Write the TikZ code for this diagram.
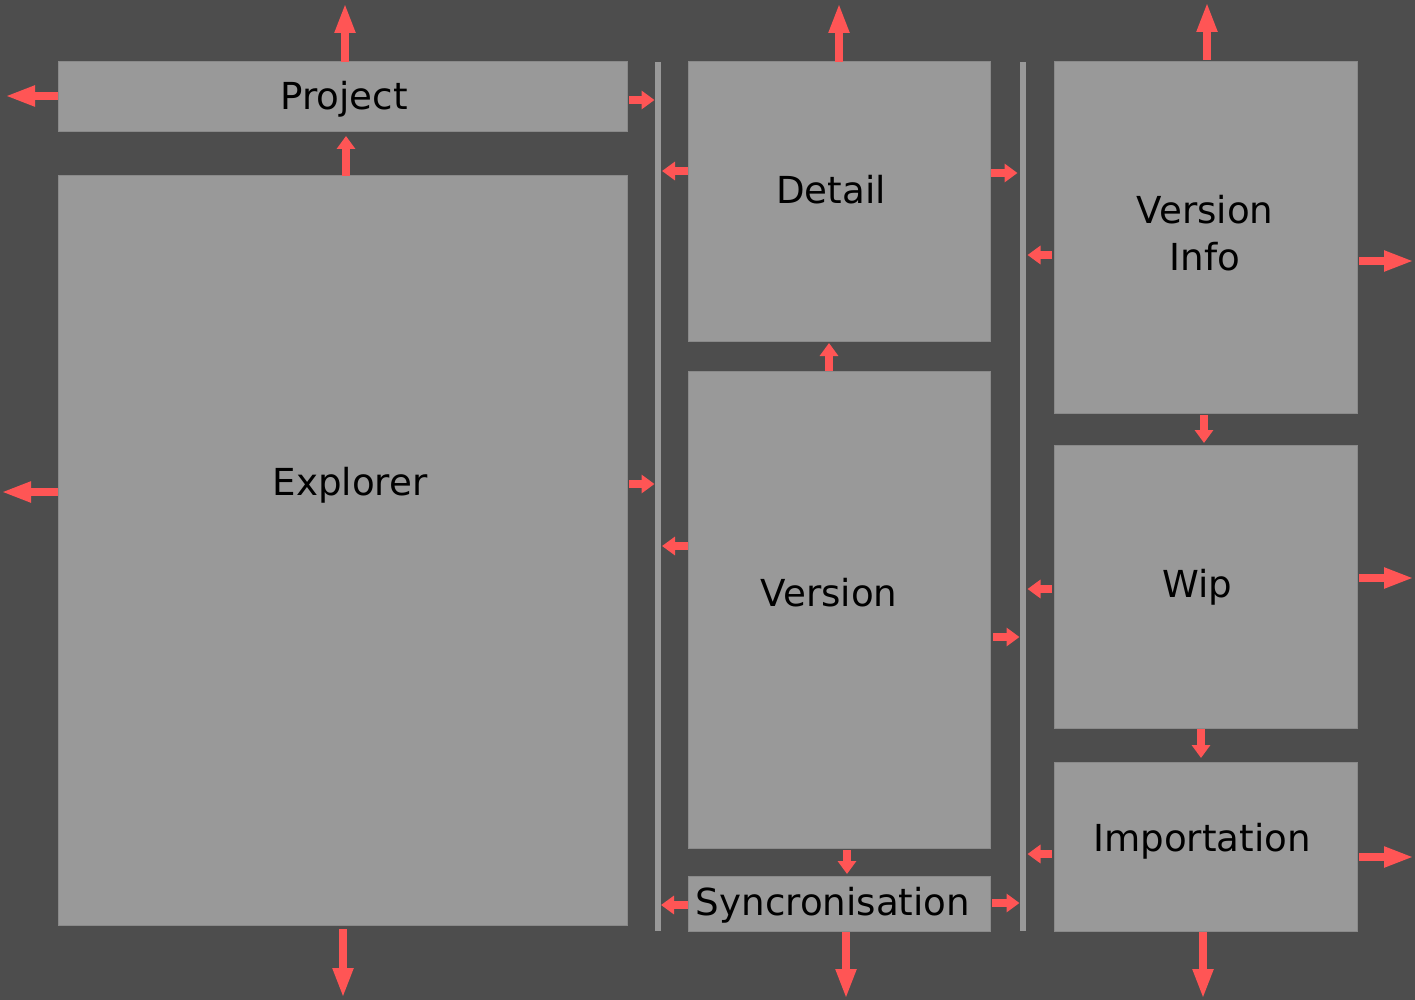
\documentclass[tikz,border=0pt]{standalone}
\usepackage{fontspec}
\setmainfont{DejaVu Sans}
\usetikzlibrary{arrows.meta}
\definecolor{bg}{HTML}{4D4D4D}
\definecolor{panel}{HTML}{999999}
\definecolor{edgec}{HTML}{8A8A8A}
\definecolor{arr}{HTML}{FF5555}
\tikzset{
  panelbox/.style={draw=edgec, line width=1pt, fill=panel, inner sep=0pt, outer sep=0pt, anchor=north west},
  divider/.style={fill=panel, inner sep=0pt, outer sep=0pt, anchor=north west, minimum width=6pt, minimum height=869pt},
  lbl/.style={font=\fontsize{37.2}{46}\selectfont, text=black, align=center, inner sep=0pt},
  bigarrow/.style={draw=arr, line width=7.5pt, -{Triangle[width=19pt,length=30pt]}},
  smallarrow/.style={draw=arr, line width=7.5pt, -{Triangle[width=18pt,length=13pt]}},
}
\begin{document}
\begin{tikzpicture}[x=1pt, y=-1pt]
\fill[bg] (0,0) rectangle (1415,1000);
\useasboundingbox (0,0) rectangle (1415,1000);

% panels
\node[panelbox, minimum width=569pt, minimum height=70pt]  (project)  at (58,62)   {};
\node[panelbox, minimum width=569pt, minimum height=749pt] (explorer) at (58,176)  {};
\node[panelbox, minimum width=302pt, minimum height=279pt] (detail)   at (688,62)  {};
\node[panelbox, minimum width=302pt, minimum height=477pt] (version)  at (688,371) {};
\node[panelbox, minimum width=302pt, minimum height=55pt]  (sync)     at (688,876) {};
\node[panelbox, minimum width=303pt, minimum height=351pt] (vinfo)    at (1054,62) {};
\node[panelbox, minimum width=303pt, minimum height=283pt] (wip)      at (1054,445) {};
\node[panelbox, minimum width=303pt, minimum height=169pt] (import)   at (1054,762) {};

% dividers
\node[divider] (div1) at (654.5,62) {};
\node[divider] (div2) at (1019.5,62) {};

% labels
\node[lbl, anchor=base] (projectlbl)  at (344,110) {Project};
\node[lbl, anchor=base] (explorerlbl) at (350,495) {Explorer};
\node[lbl, anchor=base] (detaillbl)   at (831,204) {Detail};
\node[lbl, anchor=base] (vinfolbl1)   at (1205,224) {Version};
\node[lbl, anchor=base] (vinfolbl2)   at (1205,270) {Info};
\node[lbl, anchor=base] (versionlbl)  at (829,606) {Version};
\node[lbl, anchor=base] (synclbl)     at (833,915) {Syncronisation};
\node[lbl, anchor=base] (wiplbl)      at (1197,597) {Wip};
\node[lbl, anchor=base] (importlbl)   at (1202,851) {Importation};

% free ends of outward arrows
\coordinate (projUp)    at (345,3);
\coordinate (projLeft)  at (5,96);
\coordinate (explLeft)  at (1,492);
\coordinate (explDown)  at (343,998);
\coordinate (detUp)     at (839,3);
\coordinate (syncDown)  at (846,999);
\coordinate (viUp)      at (1207,2);
\coordinate (viRight)   at (1414,261);
\coordinate (wipRight)  at (1414,578);
\coordinate (impRight)  at (1414,857);
\coordinate (impDown)   at (1203,999);

% Project
\draw[bigarrow] (projUp |- project.north) -- (projUp);
\draw[bigarrow] (projLeft -| project.west) -- (projLeft);
\draw[smallarrow, shorten <=2pt] (project.east |- 0,100) -- (div1.west |- 0,100);

% Explorer
\draw[smallarrow, shorten >=4pt] (explorer.north -| 346,0) -- (project.south -| 346,0);
\draw[bigarrow] (explLeft -| explorer.west) -- (explLeft);
\draw[smallarrow, shorten <=2pt] (explorer.east |- 0,484) -- (div1.west |- 0,484);
\draw[bigarrow, shorten <=4pt] (explDown |- explorer.south) -- (explDown);

% Detail
\draw[bigarrow] (detUp |- detail.north) -- (detUp);
\draw[smallarrow, shorten >=1.5pt] (detail.west |- 0,171) -- (div1.east |- 0,171);
\draw[smallarrow, shorten <=1pt, shorten >=2pt] (detail.east |- 0,173) -- (div2.west |- 0,173);

% Version
\draw[smallarrow, shorten >=2pt] (version.north -| 829,0) -- (detail.south -| 829,0);
\draw[smallarrow, shorten >=1.5pt] (version.west |- 0,546) -- (div1.east |- 0,546);
\draw[smallarrow, shorten <=3pt] (version.east |- 0,637) -- (div2.west |- 0,637);
\draw[smallarrow, shorten <=2pt, shorten >=2pt] (version.south -| 847,0) -- (sync.north -| 847,0);

% Syncronisation
\draw[smallarrow, shorten >=0.5pt] (sync.west |- 0,905) -- (div1.east |- 0,905);
\draw[smallarrow, shorten <=2pt] (sync.east |- 0,903) -- (div2.west |- 0,903);
\draw[bigarrow, shorten <=1pt] (syncDown |- sync.south) -- (syncDown);

% Version Info
\draw[bigarrow, shorten <=2pt] (viUp |- vinfo.north) -- (viUp);
\draw[smallarrow, shorten <=2pt, shorten >=2pt] (vinfo.west |- 0,255) -- (div2.east |- 0,255);
\draw[bigarrow, shorten <=2pt] (viRight -| vinfo.east) -- (viRight);
\draw[smallarrow, shorten <=2pt, shorten >=2pt] (vinfo.south -| 1204,0) -- (wip.north -| 1204,0);

% Wip
\draw[smallarrow, shorten <=2pt, shorten >=2pt] (wip.west |- 0,589) -- (div2.east |- 0,589);
\draw[bigarrow, shorten <=2pt] (wipRight -| wip.east) -- (wipRight);
\draw[smallarrow, shorten <=1pt, shorten >=4pt] (wip.south -| 1201,0) -- (import.north -| 1201,0);

% Importation
\draw[smallarrow, shorten <=2pt, shorten >=2pt] (import.west |- 0,854) -- (div2.east |- 0,854);
\draw[bigarrow, shorten <=2pt] (impRight -| import.east) -- (impRight);
\draw[bigarrow, shorten <=1pt] (impDown |- import.south) -- (impDown);
\end{tikzpicture}
\end{document}
